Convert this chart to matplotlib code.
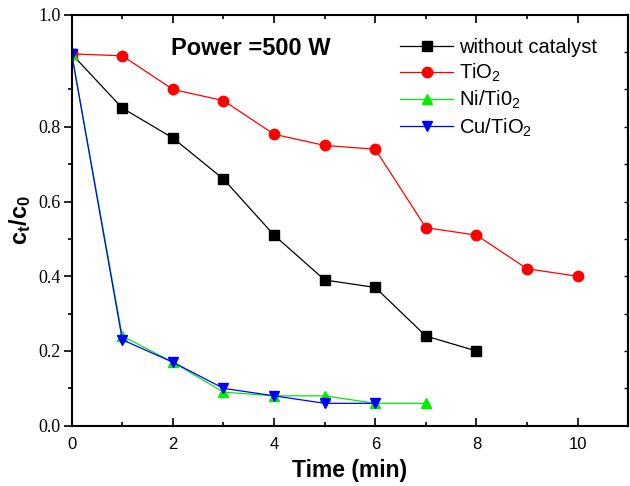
import matplotlib
matplotlib.use('Agg')
import matplotlib.pyplot as plt
from matplotlib.ticker import MultipleLocator, FixedLocator

plt.rcParams['font.family'] = ['Liberation Sans', 'DejaVu Sans']
plt.rcParams['mathtext.default'] = 'regular'

# Données
t_sans = [0, 1, 2, 3, 4, 5, 6, 7, 8]
c_sans = [0.995, 0.85, 0.77, 0.66, 0.51, 0.39, 0.37, 0.24, 0.20]

t_tio2 = [0, 1, 2, 3, 4, 5, 6, 7, 8, 9, 10]
c_tio2 = [0.995, 0.99, 0.90, 0.87, 0.78, 0.75, 0.74, 0.53, 0.51, 0.42, 0.40]

t_ni = [0, 1, 2, 3, 4, 5, 6, 7]
c_ni = [0.995, 0.24, 0.17, 0.09, 0.08, 0.08, 0.06, 0.06]

t_cu = [0, 1, 2, 3, 4, 5, 6]
c_cu = [0.995, 0.23, 0.17, 0.10, 0.08, 0.06, 0.06]

y_ticks = [0.0, 0.2, 0.4, 0.6, 0.8, 1.1]
y_labels = ['0.0', '0.2', '0.4', '0.6', '0.8', '1.0']

fig = plt.figure(figsize=(6.3, 4.86), dpi=100)
ax = fig.add_axes([0.1138, 0.124, 0.8835, 0.8458])

ax.plot(t_sans, c_sans, color='black', marker='s', ms=7, lw=0.9, label='without catalyst')
ax.plot(t_tio2, c_tio2, color='red', marker='o', ms=7.5, lw=0.9, label='TiO$_2$')
ax.plot(t_ni, c_ni, color='#00ee00', marker='^', ms=7.5, lw=0.9, label='Ni/Ti0$_2$')
ax.plot(t_cu, c_cu, color='blue', marker='v', ms=7.5, lw=0.9, label='Cu/TiO$_2$')

ax.set_xlim(0, 11)
ax.set_ylim(0, 1.1)

ax.xaxis.set_major_locator(MultipleLocator(2))
ax.xaxis.set_minor_locator(MultipleLocator(1))
ax.yaxis.set_major_locator(FixedLocator(y_ticks))
ax.set_yticklabels(y_labels, fontfamily='Liberation Serif', fontsize=13)
ax.yaxis.set_minor_locator(FixedLocator([0.1, 0.3, 0.5, 0.7, 0.9]))

for lbl in ax.get_xticklabels():
    lbl.set_fontsize(12)

ax.tick_params(axis='x', which='both', direction='in', top=True)
ax.tick_params(axis='x', which='major', length=6, width=1.2, pad=8)
ax.tick_params(axis='x', which='minor', length=3, width=1.2)
ax.tick_params(axis='y', which='both', direction='out', right=False)
ax.tick_params(axis='y', which='major', length=6, width=1.2, pad=2)
ax.tick_params(axis='y', which='minor', length=3, width=1.2)

# graduations intérieures à droite
ax_r = ax.secondary_yaxis('right')
ax_r.yaxis.set_major_locator(FixedLocator([0.2, 0.4, 0.6, 0.8, 1.0]))
ax_r.yaxis.set_minor_locator(FixedLocator([0.1, 0.3, 0.5, 0.7, 0.9]))
ax_r.tick_params(which='both', direction='in', labelright=False, length=3, width=1)
ax_r.spines['right'].set_linewidth(1.5)

for s in ax.spines.values():
    s.set_linewidth(1.5)

ax.set_xlabel('Time (min)', fontsize=16.5, fontweight='bold', labelpad=5)
ax.set_ylabel('c$_t$/c$_0$', fontsize=17, fontweight='bold', labelpad=4)

ax.text(1.97, 1.01, 'Power =500 W', fontsize=17, fontweight='bold', va='center', ha='left')

ax.legend(loc='upper right', bbox_to_anchor=(0.976, 0.987), frameon=False, fontsize=14.5,
          handlelength=2.6, handletextpad=0.3, labelspacing=0.24)

fig.savefig('out.png', dpi=100)
